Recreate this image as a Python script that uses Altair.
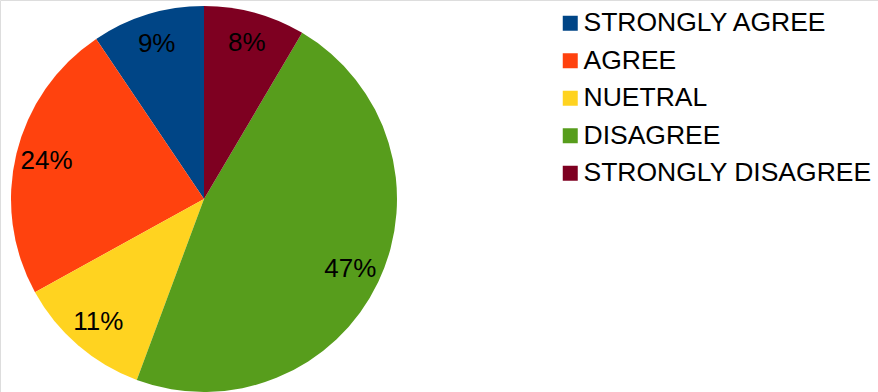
import altair as alt
import pandas as pd

categories = ["STRONGLY AGREE", "AGREE", "NUETRAL", "DISAGREE", "STRONGLY DISAGREE"]
counts = [10, 25, 12, 50, 9]
labels = ["9%", "24%", "11%", "47%", "8%"]
colors = ["#004586", "#ff420e", "#ffd320", "#579d1c", "#7e0021"]
# clockwise from 12 o'clock
slice_order = [5, 4, 3, 2, 1]

df = pd.DataFrame({"cat": categories, "count": counts, "label": labels, "ord": slice_order})

FONT = "Liberation Sans"
cx, cy, R = 204, 199, 193

base = alt.Chart(df).encode(
    theta=alt.Theta("count:Q", stack=True),
    order=alt.Order("ord:Q"),
    x=alt.value(cx),
    y=alt.value(cy),
)

pie = base.mark_arc(outerRadius=R).encode(
    color=alt.Color(
        "cat:N",
        scale=alt.Scale(domain=categories, range=colors),
        sort=categories,
        legend=alt.Legend(
            title=None,
            orient="none",
            legendX=557,
            legendY=10,
            symbolType="square",
            symbolSize=225,
            symbolStrokeWidth=0,
            labelFont=FONT,
            labelFontSize=26.5,
            labelColor="#000000",
            labelOffset=0,
            rowPadding=10.5,
            padding=0,
            labelLimit=400,
        ),
    )
)

text = base.mark_text(
    radius=162, font=FONT, fontSize=26, color="#000000", align="center", baseline="middle"
).encode(text="label:N")

chart = (
    alt.layer(pie, text)
    .properties(width=878, height=392, padding=0, autosize=alt.AutoSizeParams(type="none"))
    .configure_view(stroke=None)
    .configure(background="white")
)

chart.save("out.html", embed_options={"renderer": "svg", "actions": False})
